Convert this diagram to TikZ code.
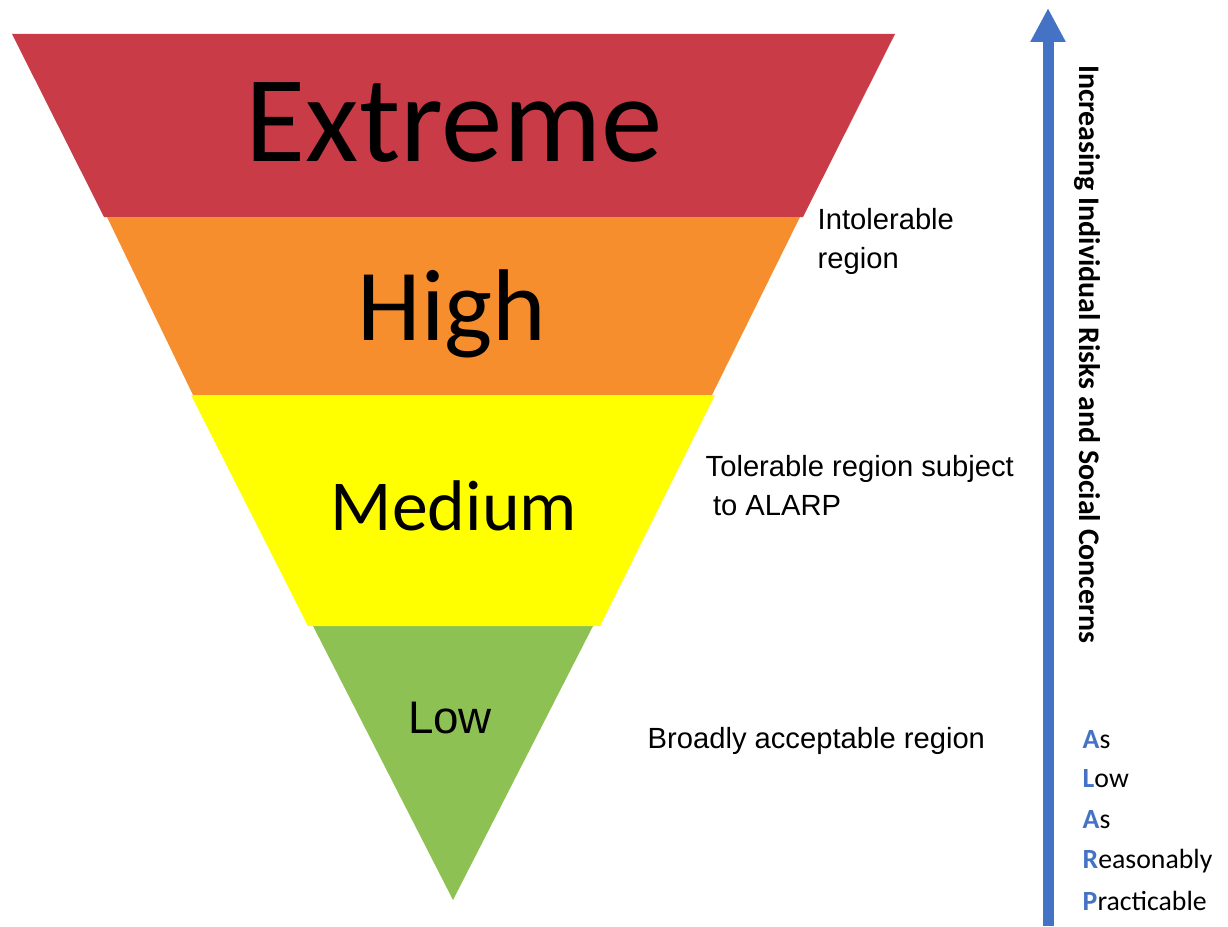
\documentclass[tikz,border=0pt]{standalone}
\usepackage{fontspec}
\setmainfont{Liberation Sans}
\newfontfamily\carlito{Carlito}
\usetikzlibrary{arrows.meta}

\definecolor{riskred}{RGB}{201,59,71}
\definecolor{riskorange}{RGB}{247,142,46}
\definecolor{riskyellow}{RGB}{255,255,0}
\definecolor{riskgreen}{RGB}{141,193,83}
\definecolor{alarpblue}{RGB}{68,114,196}

\begin{document}
\begin{tikzpicture}[
  level/.style={font=\carlito\fontsize{#1}{#1}\selectfont, anchor=base, inner sep=0pt},
  region/.style={font=\fontsize{8.3}{11}\selectfont, align=left, anchor=base west, inner sep=0pt},
  acro/.style={font=\carlito\fontsize{7.9}{9}\selectfont, anchor=base west, inner sep=0pt}
]
\useasboundingbox (0,0) rectangle (12.28,9.26);

% Extreme band (top of the funnel)
\fill[riskred] (0.12,8.92) -- (8.95,8.92) -- (8.03,7.09) -- (1.04,7.09) -- cycle;
\node[level=35] (extreme) at (4.54,7.64) {Extreme};

% High band
\fill[riskorange] (1.07,7.09) -- (8.00,7.09) -- (7.12,5.31) -- (1.93,5.31) -- cycle;
\node[level=29] (high) at (4.52,5.86) {High};

% Low band (tip), drawn before yellow so yellow sits on top
\fill[riskgreen] (3.13,3.00) -- (5.93,3.00) -- (4.53,0.26) -- cycle;
\node[level=13, font=\fontsize{13}{13}\selectfont] (low) at (4.50,1.93) {Low};

% Medium band
\fill[riskyellow] (1.91,5.31) -- (7.15,5.31) -- (6.00,3.00) -- (3.08,3.00) -- cycle;
\node[level=20.4] (medium) at (4.54,3.96) {Medium};

% Region descriptions (base = last line)
\node[region] (intol) at (8.17,6.58) {Intolerable\\region};
\node[region] (toler) at (7.05,4.11) {Tolerable region subject\\\hspace*{0.25em}to ALARP};
\node[region] (broad) at (6.47,1.78) {Broadly acceptable region};

% Risk arrow
\coordinate (arrowfoot) at (10.48,0);
\coordinate (arrowtip) at (10.48,9.18);
\draw[alarpblue, line width=0.11cm, -{Triangle[width=0.33cm, length=0.34cm]}] (arrowfoot) -- (arrowtip);
\node[rotate=-90, font=\carlito\bfseries\fontsize{8.5}{10}\selectfont] (concern) at (10.87,5.72) {Increasing Individual Risks and Social Concerns};

% ALARP acronym
\foreach \first/\rest/\y [count=\i] in {A/s/1.78, L/ow/1.39, A/s/0.98, R/easonably/0.58, P/racticable/0.16}
  \node[acro] (alarp\i) at (10.82,\y) {\textcolor{alarpblue}{\bfseries\first}\rest};

\end{tikzpicture}
\end{document}
